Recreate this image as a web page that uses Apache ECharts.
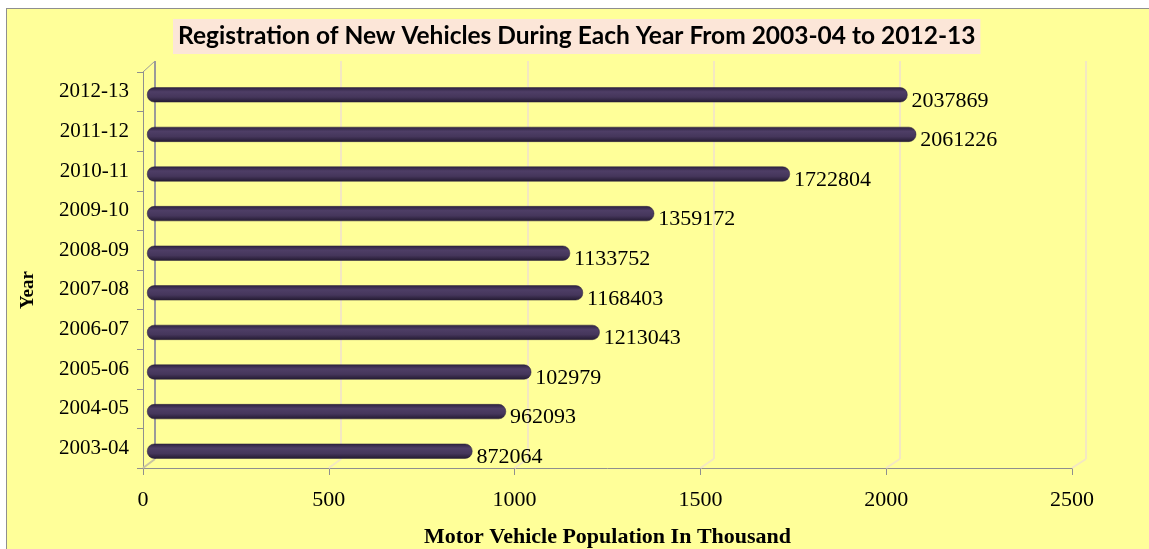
<!DOCTYPE html>
<html>
<head>
<meta charset="utf-8">
<script src="https://cdn.jsdelivr.net/npm/echarts@6/dist/echarts.min.js"></script>
<style>
  html, body { margin: 0; padding: 0; background: #ffffff; overflow: hidden; }
  #bg { position: absolute; left: 6px; top: 8px; width: 1160px; height: 560px; background: #FFFF99; border-top: 1px solid #8f8f8f; border-left: 1px solid #8f8f8f; }
  #chart { position: absolute; left: 0; top: 0; width: 1149px; height: 549px; }
</style>
</head>
<body>
<div id="bg"></div>
<div id="chart"></div>
<script>
// ---- data ----
const categories = ['2003-04', '2004-05', '2005-06', '2006-07', '2007-08', '2008-09', '2009-10', '2010-11', '2011-12', '2012-13'];
const values = [872.064, 962.093, 1029.79, 1213.043, 1168.403, 1133.752, 1359.172, 1722.804, 2061.226, 2037.869];
const valueLabels = ['872064', '962093', '102979', '1213043', '1168403', '1133752', '1359172', '1722804', '2061226', '2037869'];
const xTickValues = [0, 500, 1000, 1500, 2000, 2500];
const titleText = 'Registration of New Vehicles During Each Year From 2003-04 to 2012-13';
const xAxisName = 'Motor Vehicle Population In Thousand';
const yAxisName = 'Year';

// ---- layout ----
const W = 1149, H = 549;
const front = { left: 143, right: W - 1072, top: 72, bottom: H - 468 };
const back = { left: 155, right: W - 1086, top: 61, bottom: H - 459 };
const bars = { left: 147, right: W - 1080, top: 75, bottom: H - 471 };
const serif = 'Liberation Serif';
const xMin = xTickValues[0], xMax = xTickValues[xTickValues.length - 1], xStep = xTickValues[1] - xTickValues[0];

const chart = echarts.init(document.getElementById('chart'), null, { renderer: 'canvas' });

const gridBase = { containLabel: false, outerBoundsMode: 'none' };
const option = {
  backgroundColor: 'transparent',
  animation: false,
  title: {
    text: titleText,
    left: 173,
    top: 19,
    padding: [4, 5, 4, 5],
    backgroundColor: '#FCE6D8',
    textStyle: { fontFamily: 'Lato', fontWeight: 'bold', fontSize: 24.5, color: '#000', lineHeight: 27 }
  },
  grid: [
    Object.assign({}, gridBase, front),
    Object.assign({}, gridBase, back),
    Object.assign({}, gridBase, bars)
  ],
  xAxis: [
    {
      gridIndex: 0, type: 'value', min: xMin, max: xMax, interval: xStep,
      axisLine: { show: true, lineStyle: { color: '#8f8f8f', width: 1 } },
      axisTick: { show: true, length: 7, lineStyle: { color: '#8f8f8f' } },
      axisLabel: { fontFamily: serif, fontSize: 22, color: '#000', margin: 21, formatter: v => String(v) },
      splitLine: { show: false },
      name: xAxisName, nameLocation: 'middle', nameGap: 58,
      nameTextStyle: { fontFamily: serif, fontWeight: 'bold', fontSize: 22, color: '#000' }
    },
    {
      gridIndex: 1, type: 'value', min: xMin, max: xMax, interval: xStep,
      axisLine: { show: false }, axisTick: { show: false }, axisLabel: { show: false },
      splitLine: { show: true, lineStyle: { color: ['#9a9a9a', '#F4E8C2', '#F4E8C2', '#F4E8C2', '#F4E8C2', '#F4E8C2'], width: 2 } }
    },
    {
      gridIndex: 2, type: 'value', min: xMin, max: xMax, show: false
    }
  ],
  yAxis: [
    {
      gridIndex: 0, type: 'category', data: categories,
      axisLine: { show: true, lineStyle: { color: '#8f8f8f', width: 1 } },
      axisTick: { show: true, length: 6, lineStyle: { color: '#8f8f8f' } },
      axisLabel: { fontFamily: serif, fontSize: 21, color: '#000', margin: 14, padding: [6, 0, 0, 0] },
      splitLine: { show: false }
    },
    { gridIndex: 1, type: 'category', data: categories, show: false },
    { gridIndex: 2, type: 'category', data: categories, show: false }
  ],
  series: [
    {
      type: 'bar',
      xAxisIndex: 2, yAxisIndex: 2,
      data: values,
      barWidth: 15,
      itemStyle: {
        color: new echarts.graphic.LinearGradient(0, 0, 0, 1, [
          { offset: 0, color: '#2c2140' },
          { offset: 0.3, color: '#4e3e66' },
          { offset: 0.65, color: '#45365b' },
          { offset: 1, color: '#231a31' }
        ]),
        borderRadius: 7,
        borderColor: '#2a2038',
        borderWidth: 0.5
      },
      label: {
        show: true, position: 'right', distance: 4, offset: [0, 6],
        formatter: p => valueLabels[p.dataIndex],
        fontFamily: serif, fontSize: 22, color: '#000'
      }
    }
  ]
};
chart.setOption(option);

// 3D frame connectors derived from the axes' own scales
const graphics = [];
xTickValues.forEach((v, i) => {
  const xf = chart.convertToPixel({ xAxisIndex: 0 }, v);
  const xb = chart.convertToPixel({ xAxisIndex: 1 }, v);
  graphics.push({
    type: 'line', silent: true, z: 1,
    shape: { x1: xb, y1: H - back.bottom, x2: xf, y2: H - front.bottom },
    style: { stroke: i === 0 ? '#c9c4a0' : '#F4E8C2', lineWidth: 2 }
  });
});
const xf0 = chart.convertToPixel({ xAxisIndex: 0 }, xMin);
const xb0 = chart.convertToPixel({ xAxisIndex: 1 }, xMin);
graphics.push({
  type: 'line', silent: true, z: 1,
  shape: { x1: xf0, y1: front.top, x2: xb0, y2: back.top },
  style: { stroke: '#9a9a9a', lineWidth: 1 }
});
graphics.push({
  type: 'text', silent: true,
  x: 28, y: 290, rotation: Math.PI / 2,
  style: { text: yAxisName, fontFamily: serif, fontWeight: 'bold', fontSize: 19, fill: '#000', textAlign: 'center', textVerticalAlign: 'middle' }
});
chart.setOption({ graphic: graphics });
</script>
</body>
</html>
